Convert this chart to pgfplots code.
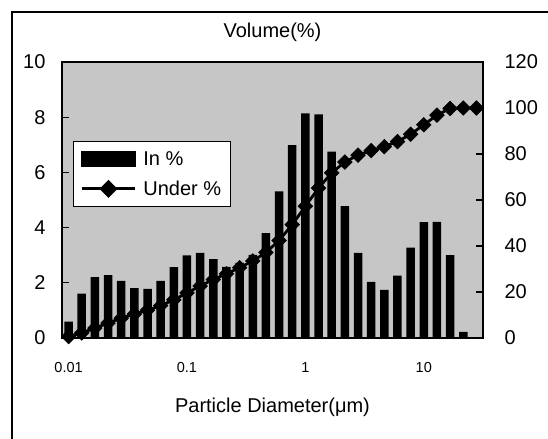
\documentclass[border=0pt]{standalone}
\usepackage{fontspec}
\setmainfont{Liberation Sans}
\usepackage{pgfplots}
\pgfplotsset{compat=1.18}
\definecolor{plotbg}{RGB}{198,198,198}

\pgfplotsset{
  chartbase/.style={
    scale only axis, width=421bp, height=276bp,
    at={(0bp,0bp)}, anchor=south west,
    xmin=0.5, xmax=32.5,
    font=\fontsize{20bp}{24bp}\selectfont,
    /pgf/number format/assume math mode=true,
    tick align=inside, major tick length=7bp,
    tick style={black, line width=1.2bp},
    axis line style={line width=1.5bp},
  }
}

\begin{document}
\begin{tikzpicture}
\path[use as bounding box] (-62bp,-101bp) rectangle (486bp,338bp);
\draw[line width=1.2bp] (-50bp,-101bp) -- (-50bp,326bp) -- (486bp,326bp);

\begin{axis}[chartbase,
    ymin=0, ymax=10, ytick={0,2,...,10}, ytick pos=left,
    yticklabel style={xshift=-13bp},
    axis background/.style={fill=plotbg},
    xtick={1,10,19,28}, xticklabels={0.01,0.1,1,10},
    xtick style={draw=none},
    xticklabel style={font=\fontsize{14.5bp}{17bp}\selectfont, yshift=-14bp},
    xlabel={Particle Diameter(μm)},
    every axis x label/.style={at={(axis description cs:0.5,0)}, anchor=center, yshift=-69bp},
    title={Volume(\%)},
    every axis title/.style={at={(axis description cs:0.5,1)}, anchor=center, yshift=30bp},
    ybar, bar width=8.5bp, bar shift=0pt,
  ]
  \addplot[fill=black, draw=none] coordinates {
    (1,0.59) (2,1.61) (3,2.21) (4,2.28) (5,2.07) (6,1.81) (7,1.78) (8,2.07)
    (9,2.57) (10,2.99) (11,3.08) (12,2.86) (13,2.58) (14,2.72) (15,3.01) (16,3.80)
    (17,5.31) (18,6.99) (19,8.14) (20,8.10) (21,6.75) (22,4.78) (23,3.08) (24,2.03)
    (25,1.74) (26,2.26) (27,3.27) (28,4.20) (29,4.21) (30,3.00) (31,0.22) (32,0)
  };
\end{axis}

\begin{axis}[chartbase,
    ymin=0, ymax=120, ytick={0,20,...,120},
    axis y line*=right, axis x line=none,
    yticklabel style={xshift=18bp},
    clip=false,
    legend style={at={(rel axis cs:0.026,0.714)}, anchor=north west,
      draw=black, line width=1.2bp, fill=white,
      font=\fontsize{20bp}{24bp}\selectfont,
      inner xsep=7bp, inner ysep=8bp, row sep=10bp,
      /tikz/every odd column/.append style={column sep=5bp}},
    legend cell align=left,
  ]
  \addlegendimage{legend image code/.code={\fill[black] (0bp,-7.5bp) rectangle (53bp,7.5bp);}}
  \addlegendentry{In \%}
  \addplot[black, line width=2.8bp, mark=square*, mark size=5.2bp,
    mark options={rotate=45, line width=0.5bp},
    legend image code/.code={\draw[black, line width=2.8bp] (0bp,0bp) -- (53bp,0bp);
      \fill[black] (26.5bp,7bp) -- (33.5bp,0bp) -- (26.5bp,-7bp) -- (19.5bp,0bp) -- cycle;}]
    coordinates {
    (1,0.6) (2,2.2) (3,4.3) (4,6.5) (5,8.6) (6,10.4) (7,12.1) (8,14.1)
    (9,16.6) (10,19.6) (11,22.6) (12,25.4) (13,27.9) (14,30.6) (15,33.5) (16,37.2)
    (17,42.4) (18,49.3) (19,57.3) (20,65.2) (21,71.8) (22,76.5) (23,79.5) (24,81.5)
    (25,83.2) (26,85.4) (27,88.6) (28,92.7) (29,96.9) (30,99.8) (31,100) (32,100)
  };
  \addlegendentry{Under \%\hspace{18bp}}
\end{axis}
\end{tikzpicture}
\end{document}
